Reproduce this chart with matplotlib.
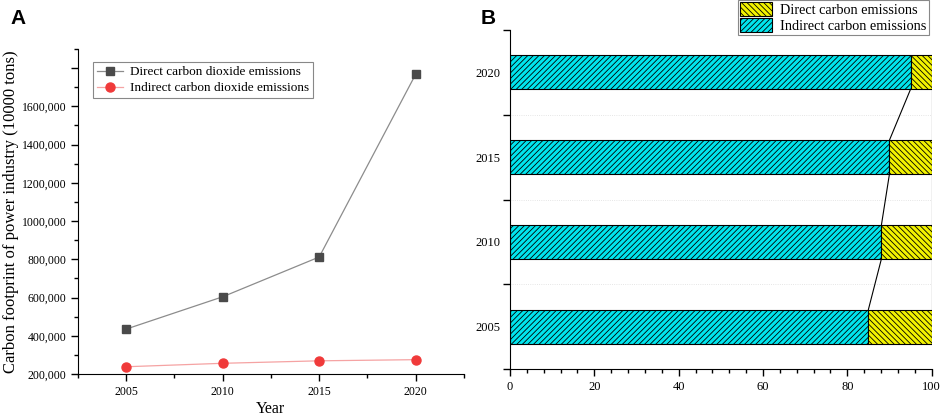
import numpy as np
import matplotlib
matplotlib.use("Agg")
import matplotlib.pyplot as plt
from matplotlib.patches import Patch
from matplotlib.ticker import MultipleLocator, FixedLocator

plt.rcParams["font.family"] = ["Liberation Serif", "DejaVu Serif"]
plt.rcParams["hatch.linewidth"] = 0.6

# Panel A data
years = [2005, 2010, 2015, 2020]
direct_co2 = [435000, 604000, 812000, 1768000]
indirect_co2 = [238000, 256000, 269000, 275000]
ytick_vals = [200000, 400000, 600000, 800000, 1000000, 1200000, 1400000, 1600000, 1800000]
ytick_labels = ["200,000", "400,000", "600,000", "800,000", "1000,000",
                "1200,000", "1400,000", "1600,000", ""]

# Panel B data (share, %)
bar_years = ["2005", "2010", "2015", "2020"]
indirect_share = [85.0, 88.1, 90.0, 95.0]
direct_share = [15.0, 11.9, 10.0, 5.0]

fig = plt.figure(figsize=(9.41, 4.17), dpi=100)

# ---- Panel A ----
ax1 = fig.add_axes([0.0829, 0.1031, 0.4101, 0.7794])
ax1.plot(years, direct_co2, color="#8c8c8c", lw=0.9, marker="s", ms=5.5,
         mfc="#4a4a4a", mec="#4a4a4a", label="Direct carbon dioxide emissions")
ax1.plot(years, indirect_co2, color="#f5a3a3", lw=0.9, marker="o", ms=6.5,
         mfc="#f03a3a", mec="#f03a3a", label="Indirect carbon dioxide emissions")
ax1.set_xlim(2002.5, 2022.5)
ax1.set_ylim(200000, 1900000)
ax1.set_xticks(years)
ax1.xaxis.set_minor_locator(MultipleLocator(2.5))
ax1.set_yticks(ytick_vals)
ax1.set_yticklabels(ytick_labels)
ax1.yaxis.set_minor_locator(MultipleLocator(100000))
ax1.spines["top"].set_visible(False)
ax1.spines["right"].set_visible(False)
ax1.tick_params(which="major", length=5, width=1, labelsize=8.5)
ax1.tick_params(which="minor", length=3, width=1)
ax1.set_xlabel("Year", fontsize=11.5, labelpad=2)
ax1.set_ylabel("Carbon footprint of power industry (10000 tons)", fontsize=12, labelpad=2)
leg1 = ax1.legend(loc="upper left", bbox_to_anchor=(0.038, 0.96), fontsize=9.5,
                  fancybox=False, edgecolor="#888888", framealpha=1,
                  handlelength=2.0, handletextpad=0.5, borderpad=0.3,
                  labelspacing=0.3, borderaxespad=0)
leg1.get_frame().set_linewidth(0.8)

# ---- Panel B ----
ax2 = fig.add_axes([0.542, 0.1151, 0.448, 0.8129])
pos = np.arange(len(bar_years))
h = 0.4
ax2.barh(pos, indirect_share, height=h, color="#00e5ee", edgecolor="black",
         lw=0.8, hatch="//////")
ax2.barh(pos, direct_share, left=indirect_share, height=h, color="#f2f200",
         edgecolor="black", lw=0.8, hatch="\\\\\\\\\\\\")
totals = [a + b for a, b in zip(indirect_share, direct_share)]
for i in range(len(pos) - 1):
    ax2.plot([indirect_share[i], indirect_share[i + 1]],
             [pos[i] + h / 2, pos[i + 1] - h / 2], color="black", lw=0.8)
    ax2.plot([totals[i], totals[i + 1]],
             [pos[i] + h / 2, pos[i + 1] - h / 2], color="black", lw=0.8)
ax2.set_xlim(0, 100)
ax2.set_ylim(-0.5, 3.5)
ax2.xaxis.set_major_locator(MultipleLocator(20))
ax2.xaxis.set_minor_locator(MultipleLocator(4))
ax2.yaxis.set_major_locator(FixedLocator([-0.5, 0.5, 1.5, 2.5, 3.5]))
ax2.yaxis.set_minor_locator(FixedLocator(pos))
ax2.set_yticklabels([])
ax2.set_yticklabels(bar_years, minor=True)
for y in [0.5, 1.5, 2.5]:
    ax2.axhline(y, color="#dddddd", lw=0.6, ls=":", zorder=0)
ax2.spines["top"].set_visible(False)
ax2.spines["right"].set_visible(False)
ax2.tick_params(axis="x", which="major", length=5, width=1, labelsize=9)
ax2.tick_params(axis="x", which="minor", length=3, width=1)
ax2.tick_params(axis="y", which="major", length=5, width=1)
ax2.tick_params(axis="y", which="minor", length=0, labelsize=9, pad=7)

handles = [Patch(facecolor="#f2f200", edgecolor="black", hatch="\\\\\\\\\\\\", lw=0.8),
           Patch(facecolor="#00e5ee", edgecolor="black", hatch="//////", lw=0.8)]
leg2 = fig.legend(handles, ["Direct carbon emissions", "Indirect carbon emissions"],
                  loc="upper right", bbox_to_anchor=(929 / 941, 1.0), fontsize=10.3,
                  fancybox=False, edgecolor="#888888", framealpha=1,
                  handlelength=2.2, handleheight=1.1, handletextpad=0.6,
                  borderpad=0.15, labelspacing=0.1, borderaxespad=0)
leg2.get_frame().set_linewidth(0.8)

fig.text(10 / 941, 1 - 18 / 417, "A", fontsize=15, fontweight="bold",
         family="Liberation Sans", va="center")
fig.text(481 / 941, 1 - 18 / 417, "B", fontsize=15, fontweight="bold",
         family="Liberation Sans", va="center")

fig.savefig("out.png", dpi=100)
